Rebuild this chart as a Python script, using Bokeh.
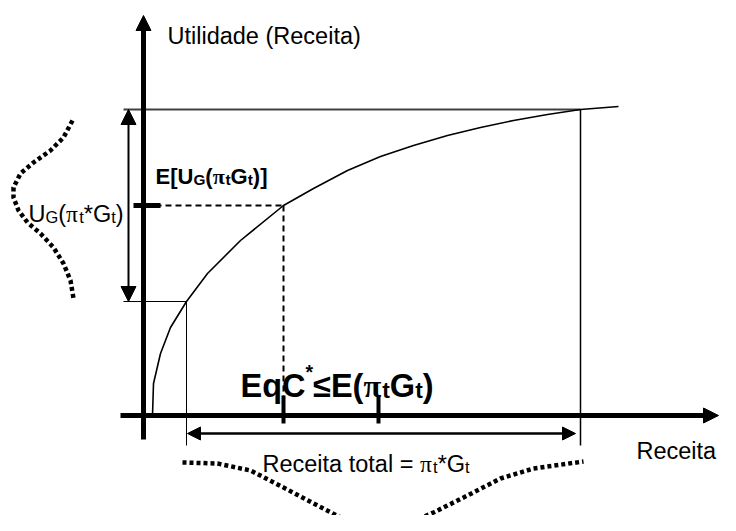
from bokeh.plotting import figure
from bokeh.models import Range1d, ColumnDataSource, Arrow, NormalHead
from bokeh.core.properties import value, field
from bokeh.embed import file_html
from bokeh.resources import INLINE

# ---- data (revenue / utility units) ----
rev_curve = [9, 10, 17, 27, 43, 64, 97, 140, 170, 204, 237, 270, 304, 337, 370, 404, 437, 475]
util_curve = [0, 32, 62, 88, 114, 142, 175, 210, 227, 245, 259, 270, 280, 288, 295, 301, 306, 309]

low_rev, low_util = 43, 114
high_rev, high_util = 437, 306
ceq_rev, exp_util = 140, 210
exp_rev = 235

# revenue distribution (drawn below the revenue axis)
dist_rev_x = [39, 74, 107, 140, 174, 207, 234, 260, 290, 324, 357, 390, 440]
dist_rev_y = [-47, -48, -55, -72, -90, -107, -114, -110, -97, -80, -63, -53, -46]
# utility distribution (drawn left of the utility axis)
dist_util_x = [-71, -80, -93, -110, -123, -130, -130, -125, -116, -103, -90, -80, -73, -70]
dist_util_y = [295, 278, 265, 253, 242, 228, 218, 205, 193, 182, 168, 152, 135, 117]

SANS = "Liberation Sans"
SERIF = "Liberation Serif"

W_REG = {'U': .722, 't': .278, 'i': .222, 'l': .222, 'd': .556, 'a': .556, 'e': .556, ' ': .278,
         '(': .333, ')': .333, 'R': .722, 'c': .5, 'o': .556, '=': .584, '*': .389, 'G': .778}
W_BOLD = {'E': .667, '[': .333, ']': .333, 'U': .722, 'G': .778, '(': .333, ')': .333, 't': .333,
          'q': .611, 'C': .722, '*': .389, '≤': .549}
W_PI = {False: 0.56, True: 0.58}

p = figure(width=720, height=515, x_range=Range1d(-143, 577), y_range=Range1d(-100, 415),
           x_axis_type=None, y_axis_type=None, toolbar_location=None, output_backend="svg",
           min_border=0, outline_line_color=None, background_fill_color="white",
           border_fill_color="white")
p.grid.visible = False


def rich(x, y, parts, size, bold=False):
    table = W_BOLD if bold else W_REG
    rows = {SANS: dict(x=[], y=[], text=[], size=[]), SERIF: dict(x=[], y=[], text=[], size=[])}
    cx = x
    for s, kind in parts:
        if kind == "sub":
            fs, dy = size * 0.7, -0.13 * size
        elif kind == "sup":
            fs, dy = size * 0.6, 0.42 * size
        else:
            fs, dy = size, 0
        fam = SERIF if s == "π" else SANS
        r = rows[fam]
        r["x"].append(cx)
        r["y"].append(y + dy)
        r["text"].append(s)
        r["size"].append(f"{fs:.1f}px")
        if s == "π":
            cx += W_PI[bold] * fs
        else:
            cx += sum(table.get(c, 0.556) for c in s) * fs
    for fam, r in rows.items():
        if not r["x"]:
            continue
        p.text(x="x", y="y", text="text", source=ColumnDataSource(r), text_font_size=field("size"),
               text_font=value(fam), text_font_style="bold" if bold else "normal",
               text_baseline="alphabetic", text_align="left", text_color="black")


# axes with arrow heads
p.add_layout(Arrow(end=NormalHead(size=15, fill_color="black", line_color="black"),
                   x_start=0, y_start=-24, x_end=0, y_end=400, line_width=5, line_color="black"))
p.add_layout(Arrow(end=NormalHead(size=15, fill_color="black", line_color="black"),
                   x_start=-23, y_start=0, x_end=575, y_end=0, line_width=5, line_color="black"))

# top reference line and outcome verticals
p.segment(x0=[-20], y0=[high_util], x1=[high_rev], y1=[high_util], line_color="#404040", line_width=2)
p.segment(x0=[high_rev], y0=[high_util], x1=[high_rev], y1=[-30], line_color="black", line_width=1.5)
p.segment(x0=[-20, low_rev], y0=[low_util, low_util], x1=[low_rev, low_rev], y1=[low_util, -30],
          line_color="black", line_width=1)

# utility curve
p.line(rev_curve, util_curve, line_color="black", line_width=1.6)

# certainty-equivalent dashed guides
p.segment(x0=[2, ceq_rev], y0=[exp_util, exp_util], x1=[ceq_rev, ceq_rev], y1=[exp_util, 0],
          line_color="black", line_width=2, line_dash="6 4")
p.segment(x0=[-10], y0=[exp_util], x1=[17], y1=[exp_util], line_color="black", line_width=5)
p.segment(x0=[ceq_rev, exp_rev], y0=[-8, -8], x1=[ceq_rev, exp_rev], y1=[20, 20],
          line_color="black", line_width=4)

# double arrows
p.add_layout(Arrow(start=NormalHead(size=15, fill_color="black"), end=NormalHead(size=15, fill_color="black"),
                   x_start=-15, y_start=low_util, x_end=-15, y_end=high_util, line_width=2))
p.add_layout(Arrow(start=NormalHead(size=13, fill_color="black"), end=NormalHead(size=13, fill_color="black"),
                   x_start=low_rev + 1, y_start=-18, x_end=high_rev - 5, y_end=-18, line_width=2.5))

# distributions (dotted)
p.line(dist_rev_x, dist_rev_y, line_color="black", line_width=4.5, line_dash="4 3", line_cap="butt")
p.line(dist_util_x, dist_util_y, line_color="black", line_width=4.5, line_dash="4 3", line_cap="butt")

# texts
rich(24, 380, [("Utilidade (Receita)", "n")], 23.5)
rich(12, 239, [("E[U", "n"), ("G", "sub"), ("(", "n"), ("π", "n"), ("t", "sub"), ("G", "n"), ("t", "sub"),
               (")]", "n")], 22, bold=True)
rich(-115, 202, [("U", "n"), ("G", "sub"), ("(", "n"), ("π", "n"), ("t", "sub"), ("*G", "n"), ("t", "sub"),
                 (")", "n")], 23.5)
rich(97, 30, [("EqC", "n"), ("*", "sup"), ("≤E(", "n"), ("π", "n"), ("t", "sub"), ("G", "n"), ("t", "sub"),
              (")", "n")], 32.5, bold=True)
rich(119, -48, [("Receita total = ", "n"), ("π", "n"), ("t", "sub"), ("*G", "n"), ("t", "sub")], 23.5)
rich(493, -35, [("Receita", "n")], 23.5)

open("out.html", "w").write(file_html(p, INLINE))
